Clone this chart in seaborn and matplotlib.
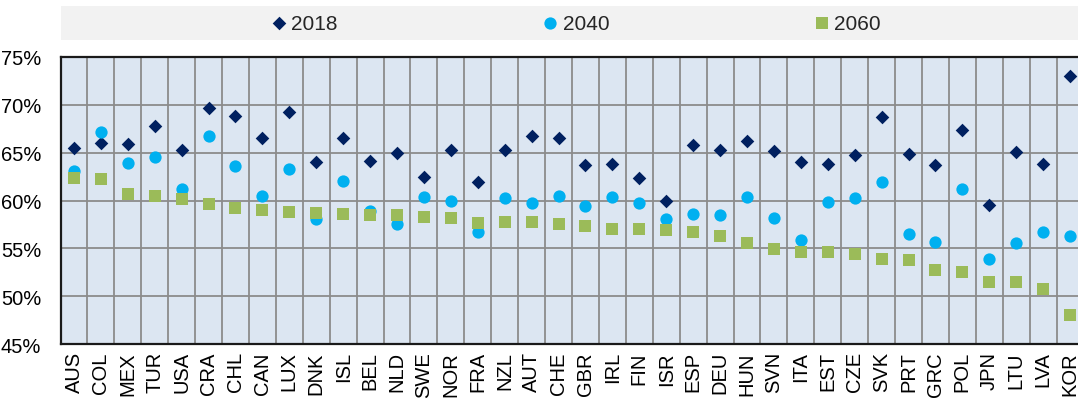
import matplotlib
matplotlib.use("Agg")
import matplotlib.pyplot as plt
from matplotlib import font_manager
from matplotlib.patches import Rectangle
from matplotlib.ticker import FixedLocator, FuncFormatter
import numpy as np
import pandas as pd
import seaborn as sns

countries = ["AUS", "COL", "MEX", "TUR", "USA", "CRA", "CHL", "CAN", "LUX", "DNK",
             "ISL", "BEL", "NLD", "SWE", "NOR", "FRA", "NZL", "AUT", "CHE", "GBR",
             "IRL", "FIN", "ISR", "ESP", "DEU", "HUN", "SVN", "ITA", "EST", "CZE",
             "SVK", "PRT", "GRC", "POL", "JPN", "LTU", "LVA", "KOR"]

share_2018 = [65.5, 66.0, 65.9, 67.8, 65.3, 69.6, 68.85, 66.5, 69.2, 64.0,
              66.5, 64.15, 65.0, 62.4, 65.25, 61.95, 65.25, 66.75, 66.55, 63.7,
              63.8, 62.3, 59.95, 65.8, 65.25, 66.2, 65.2, 64.05, 63.85, 64.7,
              68.75, 64.8, 63.75, 67.35, 59.55, 65.1, 63.85, 72.95]

share_2040 = [63.1, 67.1, 63.9, 64.5, 61.2, 66.7, 63.65, 60.5, 63.3, 58.05,
              62.0, 58.95, 57.55, 60.35, 59.95, 56.75, 60.3, 59.7, 60.45, 59.4,
              60.4, 59.7, 58.05, 58.6, 58.5, 60.35, 58.15, 55.85, 59.8, 60.3,
              61.9, 56.55, 55.65, 61.15, 53.85, 55.55, 56.75, 56.3]

share_2060 = [62.3, 62.2, 60.7, 60.5, 60.15, 59.6, 59.2, 59.0, 58.75, 58.7,
              58.6, 58.5, 58.5, 58.3, 58.15, 57.7, 57.75, 57.75, 57.55, 57.3,
              57.0, 57.0, 56.9, 56.7, 56.3, 55.6, 54.9, 54.6, 54.6, 54.45,
              53.85, 53.8, 52.75, 52.5, 51.55, 51.45, 50.75, 48.05]

years = ["2018", "2040", "2060"]
y_ticks = [45, 50, 55, 60, 65, 70, 75]

colors = {"2018": "#002060", "2040": "#00B0F0", "2060": "#9BBB59"}
markers = {"2018": "D", "2040": "o", "2060": "s"}
sizes = {"2018": 48, "2040": 78, "2060": 64}

available = {f.name for f in font_manager.fontManager.ttflist}
base_font = "Liberation Sans Narrow" if "Liberation Sans Narrow" in available else "Liberation Sans"

sns.set_theme(style="white")
plt.rcParams["font.family"] = [base_font, "DejaVu Sans"]

df = pd.DataFrame({
    "country": countries * 3,
    "share": share_2018 + share_2040 + share_2060,
    "year": [y for y in years for _ in countries],
})
df["pos"] = df["country"].map({c: i for i, c in enumerate(countries)})

fig = plt.figure(figsize=(10.78, 4.02), dpi=100)

# grey band behind the legend
fig.patches.append(Rectangle((61 / 1078, 1 - 41 / 402), 1.0, 34 / 402,
                             transform=fig.transFigure, facecolor="#F2F2F2",
                             edgecolor="none", zorder=-5))

ax = fig.add_axes([60.5 / 1078, 1 - 345.3 / 402, 1023 / 1078, 287.6 / 402])
ax.set_facecolor("#DCE6F2")

for yr in years:
    sub = df[df["year"] == yr]
    sns.scatterplot(data=sub, x="pos", y="share", color=colors[yr], marker=markers[yr],
                    s=sizes[yr], linewidth=0, ax=ax, label=yr, zorder=3)

n = len(countries)
ax.set_xlim(-0.5, n - 0.5)
ax.set_ylim(45, 75)
ax.set_xticks(range(n))
ax.set_xticklabels(countries, rotation=90, fontsize=14.5, color="#000000")
ax.xaxis.set_minor_locator(FixedLocator(np.arange(-0.5, n, 1.0)))
ax.set_yticks(y_ticks)
ax.yaxis.set_major_formatter(FuncFormatter(lambda v, _: f"{v:.0f}%"))
ax.tick_params(axis="y", labelsize=14.5, pad=14, length=0, labelcolor="#000000")
ax.tick_params(axis="x", which="both", length=0, pad=5)
ax.set_xlabel("")
ax.set_ylabel("")

ax.grid(False)
ax.grid(axis="y", which="major", color="#8C8C8C", linewidth=1.3)
ax.grid(axis="x", which="minor", color="#8C8C8C", linewidth=1.3)
ax.set_axisbelow(True)

for side in ["top", "bottom", "left"]:
    ax.spines[side].set_visible(True)
    ax.spines[side].set_color("#1A1A1A")
    ax.spines[side].set_linewidth(1.6)
ax.spines["right"].set_visible(False)

sns.move_legend(ax, "center", bbox_to_anchor=(0.535, 1 - 24 / 402),
                bbox_transform=fig.transFigure, ncol=3, frameon=False, title=None,
                fontsize=15, handlelength=0.6, handletextpad=0.3,
                columnspacing=9.9, markerscale=1.0)

fig.savefig("out.png", dpi=100)
